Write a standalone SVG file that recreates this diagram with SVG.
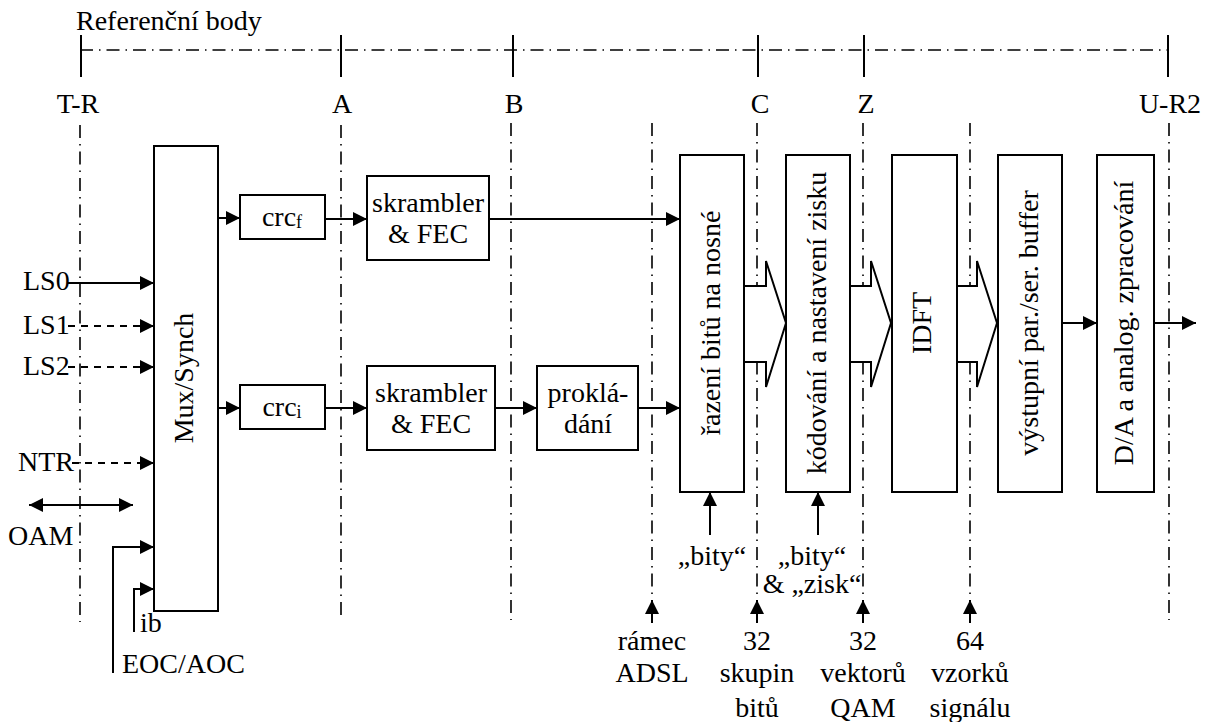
<svg xmlns="http://www.w3.org/2000/svg" width="1217" height="722" viewBox="0 0 1217 722" font-family="'Liberation Serif', 'Times New Roman', 'DejaVu Serif', serif">
<style>
text{font-family:'Liberation Serif','Times New Roman','DejaVu Serif',serif;font-size:28px;fill:#000}
.box{fill:#fff;stroke:#000;stroke-width:2}
.ln{fill:none;stroke:#000;stroke-width:2}
.dd{fill:none;stroke:#000;stroke-width:2;stroke-dasharray:7 6}
.dc{fill:none;stroke:#000;stroke-width:1.6;stroke-dasharray:13 6 1.5 6}
.blk{fill:#fff;stroke:#000;stroke-width:2;stroke-linejoin:miter}
.c{text-anchor:middle}
</style>
<defs>
<marker id="ah" viewBox="0 0 14 14" refX="14" refY="7" markerWidth="14" markerHeight="14" markerUnits="userSpaceOnUse" orient="auto-start-reverse">
<path d="M0,0 L14,7 L0,14 Z" fill="#000"/>
</marker>
</defs>
<rect width="1217" height="722" fill="#fff"/>

<g id="reference-points">
<text x="76" y="30">Referenční body</text>
<line class="dc" x1="80" y1="50" x2="1168" y2="50"/>
<path class="ln" d="M81,35V77M341,35V77M513,35V77M758,35V77M864,35V77M1168,35V77"/>
<text class="c" x="78" y="113">T-R</text>
<text class="c" x="342" y="113">A</text>
<text class="c" x="514" y="113">B</text>
<text class="c" x="760" y="113">C</text>
<text class="c" x="866" y="113">Z</text>
<text class="c" x="1170" y="113">U-R2</text>
<path class="dc" d="M80,125V622M341,125V620M511,123V620M652,123V600M757,123V600M863,123V600M970,123V600M1169,123V620"/>
</g>

<g id="connectors">
<line class="ln" x1="68" y1="283" x2="154" y2="283" marker-end="url(#ah)"/>
<line class="dd" x1="68" y1="326" x2="146" y2="326"/>
<line class="ln" x1="146" y1="326" x2="154" y2="326" marker-end="url(#ah)"/>
<line class="dd" x1="68" y1="367" x2="146" y2="367"/>
<line class="ln" x1="146" y1="367" x2="154" y2="367" marker-end="url(#ah)"/>
<line class="dd" x1="72" y1="463" x2="146" y2="463"/>
<line class="ln" x1="146" y1="463" x2="154" y2="463" marker-end="url(#ah)"/>
<line class="ln" x1="29" y1="505" x2="133" y2="505" marker-start="url(#ah)" marker-end="url(#ah)"/>
<path class="ln" d="M113,673V547H154" marker-end="url(#ah)"/>
<path class="ln" d="M134,632V589H154" marker-end="url(#ah)"/>
<line class="ln" x1="218" y1="218" x2="240" y2="218" marker-end="url(#ah)"/>
<line class="ln" x1="218" y1="408" x2="240" y2="408" marker-end="url(#ah)"/>
<line class="ln" x1="325" y1="219" x2="367" y2="219" marker-end="url(#ah)"/>
<line class="ln" x1="325" y1="408" x2="367" y2="408" marker-end="url(#ah)"/>
<line class="ln" x1="489" y1="219" x2="680" y2="219" marker-end="url(#ah)"/>
<line class="ln" x1="495" y1="408" x2="537" y2="408" marker-end="url(#ah)"/>
<line class="ln" x1="638" y1="408" x2="680" y2="408" marker-end="url(#ah)"/>
<polygon class="blk" points="744,286 766,286 766,261 786,323 766,387 766,362 744,362"/>
<polygon class="blk" points="850,286 871,286 871,261 891,323 871,387 871,362 850,362"/>
<polygon class="blk" points="957,286 977,286 977,261 997,323 977,387 977,362 957,362"/>
<line class="ln" x1="1062" y1="323" x2="1097" y2="323" marker-end="url(#ah)"/>
<line class="ln" x1="1154" y1="323" x2="1196" y2="323" marker-end="url(#ah)"/>
<line class="ln" x1="710" y1="535" x2="710" y2="492" marker-end="url(#ah)"/>
<line class="ln" x1="818" y1="535" x2="818" y2="492" marker-end="url(#ah)"/>
<line class="ln" x1="652" y1="623" x2="652" y2="600" marker-end="url(#ah)"/>
<line class="ln" x1="757" y1="623" x2="757" y2="600" marker-end="url(#ah)"/>
<line class="ln" x1="863" y1="623" x2="863" y2="600" marker-end="url(#ah)"/>
<line class="ln" x1="970" y1="623" x2="970" y2="600" marker-end="url(#ah)"/>
</g>

<g id="inputs">
<text x="23" y="290">LS0</text>
<text x="23" y="334">LS1</text>
<text x="23" y="375">LS2</text>
<text x="18" y="471">NTR</text>
<text x="8" y="545">OAM</text>
<text x="140" y="632">ib</text>
<text x="122" y="673">EOC/AOC</text>
</g>

<g id="mux">
<rect class="box" x="154" y="146" width="64" height="465"/>
<text class="c" transform="translate(193,378) rotate(-90)">Mux/Synch</text>
</g>
<g id="crcf">
<rect class="box" x="240" y="195" width="85" height="44"/>
<text class="c" x="282" y="226">crc<tspan font-size="18" dy="2">f</tspan></text>
</g>
<g id="crci">
<rect class="box" x="240" y="385" width="85" height="44"/>
<text class="c" x="282" y="416">crc<tspan font-size="18" dy="2">i</tspan></text>
</g>
<g id="fec1">
<rect class="box" x="367" y="176" width="122" height="84"/>
<text class="c" x="428" y="212">skrambler</text>
<text class="c" x="428" y="243">&amp; FEC</text>
</g>
<g id="fec2">
<rect class="box" x="367" y="366" width="128" height="84"/>
<text class="c" x="431" y="402">skrambler</text>
<text class="c" x="431" y="433">&amp; FEC</text>
</g>
<g id="interleave">
<rect class="box" x="537" y="366" width="101" height="84"/>
<text class="c" x="588" y="402">proklá-</text>
<text class="c" x="588" y="433">dání</text>
</g>
<g id="bitorder">
<rect class="box" x="680" y="155" width="64" height="337"/>
<text class="c" transform="translate(720,323) rotate(-90)">řazení bitů na nosné</text>
</g>
<g id="coding">
<rect class="box" x="786" y="155" width="64" height="337"/>
<text class="c" transform="translate(826,323) rotate(-90)">kódování a nastavení zisku</text>
</g>
<g id="idft">
<rect class="box" x="892" y="155" width="65" height="337"/>
<text class="c" transform="translate(931,323) rotate(-90)">IDFT</text>
</g>
<g id="buffer">
<rect class="box" x="998" y="155" width="64" height="337"/>
<text class="c" transform="translate(1038,323) rotate(-90)">výstupní par./ser. buffer</text>
</g>
<g id="dac">
<rect class="box" x="1097" y="155" width="57" height="337"/>
<text class="c" transform="translate(1133,323) rotate(-90)">D/A a analog. zpracování</text>
</g>

<g id="bottom-labels">
<text class="c" x="712" y="565">„bity“</text>
<text class="c" x="812" y="565">„bity“</text>
<text class="c" x="812" y="593">&amp; „zisk“</text>
<text class="c" x="652" y="650">rámec</text>
<text class="c" x="652" y="682">ADSL</text>
<text class="c" x="757" y="650">32</text>
<text class="c" x="757" y="682">skupin</text>
<text class="c" x="757" y="717">bitů</text>
<text class="c" x="863" y="650">32</text>
<text class="c" x="863" y="682">vektorů</text>
<text class="c" x="863" y="717">QAM</text>
<text class="c" x="970" y="650">64</text>
<text class="c" x="970" y="682">vzorků</text>
<text class="c" x="970" y="717">signálu</text>
</g>
</svg>
